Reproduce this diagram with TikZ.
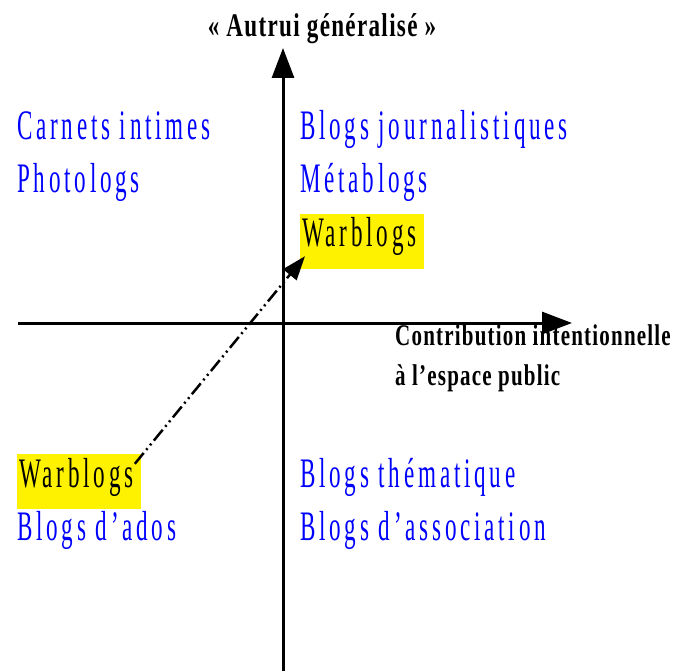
\documentclass[tikz,border=0pt]{standalone}
\usepackage{fontspec}
\usetikzlibrary{arrows.meta}
\newfontfamily\quadfont[FakeStretch=0.55,LetterSpace=9]{Liberation Serif}
\newfontfamily\axisfont[FakeStretch=0.7,LetterSpace=4]{Liberation Serif Bold}
\tikzset{
    blog/.style={anchor=base west, inner sep=0pt, font=\quadfont\fontsize{42}{42}\selectfont, text=blue},
    war/.style={blog, text=black, fill=yellow, text height=33pt, text depth=22pt, inner xsep=2pt,
                execute at end node=\hspace{5pt}},
    axislabel/.style={inner sep=0pt, font=\axisfont\fontsize{30}{30}\selectfont},
    axis/.style={line width=3pt, -{Triangle[length=30pt,width=22pt]}}
}
\begin{document}
\begin{tikzpicture}[x=1pt,y=-1pt]
    \useasboundingbox (0,0) rectangle (675,671);

    \coordinate (s) at (283,671);
    \coordinate (n) at (283,48);
    \coordinate (w) at (18,323);
    \coordinate (e) at (572,323);

    \draw[axis] (s) -- (n);
    \draw[axis] (w) -- (e);

    \node[axislabel, anchor=base, font=\axisfont\fontsize{33}{33}\selectfont] (autrui) at (322,37) {« Autrui généralisé »};
    \node[axislabel, anchor=base west] (contrib) at (395,345) {Contribution intentionnelle};
    \node[axislabel, anchor=base west] (public) at (395,385) {à l’espace public};

    \node[blog] (carnets) at (17,140) {Carnets intimes};
    \node[blog] (photo) at (17,193) {Photologs};
    \node[blog] (journ) at (300,140) {Blogs journalistiques};
    \node[blog] (meta) at (300,193) {Métablogs};
    \node[war] (warhigh) at (300,247) {Warblogs};

    \node[war] (warlow) at (17,487) {Warblogs};
    \node[blog] (ados) at (17,540) {Blogs d’ados};
    \node[blog] (theme) at (300,487) {Blogs thématique};
    \node[blog] (assoc) at (300,540) {Blogs d’association};

    \draw[line width=2.5pt, dash pattern=on 14pt off 4pt on 2pt off 4pt on 2pt off 4pt,
          -{Triangle[length=24pt,width=17pt]}]
        ([xshift=-6pt,yshift=-10pt]warlow.north east) -- ([xshift=5pt,yshift=13pt]warhigh.south west);
\end{tikzpicture}
\end{document}
